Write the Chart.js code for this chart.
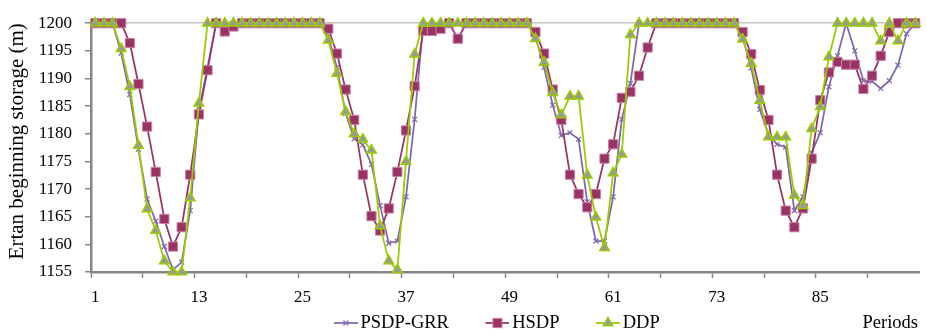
<!DOCTYPE html>
<html>
<head>
<meta charset="utf-8">
<script src="https://cdn.jsdelivr.net/npm/chart.js@4.4.1/dist/chart.umd.min.js"></script>
<style>
  html, body { margin: 0; padding: 0; background: #fff; }
  canvas { display: block; }
</style>
</head>
<body>
<canvas id="storageChart" width="927" height="335"></canvas>
<script>
// periods 1..96
const periods = Array.from({ length: 96 }, (_, i) => String(i + 1));

const psdpGrr = [
  1200, 1200, 1200, 1194.6, 1187.1, 1177.2, 1168.2, 1164.2, 1159.6, 1155.4,
  1156.8, 1166.1, 1184.3, 1192.0, 1200, 1200, 1200, 1200, 1200, 1200,
  1200, 1200, 1200, 1200, 1200, 1200, 1200, 1197.5, 1192.0, 1183.7,
  1179.1, 1178.0, 1174.5, 1167.0, 1160.2, 1160.6, 1168.6, 1182.6, 1200, 1200,
  1200, 1200, 1200, 1200, 1200, 1200, 1200, 1200, 1200, 1200,
  1200, 1197.5, 1192.0, 1185.2, 1179.7, 1180.2, 1179.0, 1167.7, 1160.6, 1160.6,
  1168.6, 1182.6, 1189.1, 1200, 1200, 1200, 1200, 1200, 1200, 1200,
  1200, 1200, 1200, 1200, 1200, 1197.5, 1191.9, 1184.4, 1179.8, 1178.1,
  1177.6, 1166.1, 1168.6, 1176.6, 1180.2, 1188.5, 1194.1, 1200, 1195.0, 1189.6,
  1189.5, 1188.2, 1189.6, 1192.4, 1198.1, 1200
];

const hsdp = [
  1200, 1200, 1200, 1200, 1196.4, 1189.0, 1181.3, 1173.1, 1164.6, 1159.6,
  1163.1, 1172.6, 1183.5, 1191.5, 1200, 1198.5, 1199.4, 1200, 1200, 1200,
  1200, 1200, 1200, 1200, 1200, 1200, 1200, 1199.0, 1194.5, 1188.0,
  1182.5, 1172.6, 1165.1, 1162.5, 1166.5, 1173.1, 1180.6, 1188.6, 1198.6, 1198.6,
  1199.0, 1200, 1197.2, 1200, 1200, 1200, 1200, 1200, 1200, 1200,
  1200, 1198.4, 1194.5, 1188.0, 1182.5, 1172.6, 1169.1, 1166.7, 1169.1, 1175.5,
  1178.1, 1186.5, 1187.6, 1190.5, 1195.6, 1200, 1200, 1200, 1200, 1200,
  1200, 1200, 1200, 1200, 1200, 1198.4, 1194.4, 1187.9, 1182.5, 1172.6,
  1166.1, 1163.1, 1166.5, 1175.5, 1186.1, 1191.1, 1193.0, 1192.5, 1192.5, 1188.1,
  1190.5, 1194.1, 1198.4, 1200, 1200, 1200
];

const ddp = [
  1200, 1200, 1200, 1195.4, 1188.5, 1177.9, 1166.4, 1162.5, 1157.0, 1155,
  1155, 1168.4, 1185.5, 1200, 1200, 1200, 1200, 1200, 1200, 1200,
  1200, 1200, 1200, 1200, 1200, 1200, 1200, 1196.9, 1190.9, 1184.0,
  1180.0, 1179.0, 1177.0, 1163.3, 1157.0, 1155.4, 1175.0, 1194.4, 1200, 1200,
  1200, 1200, 1200, 1200, 1200, 1200, 1200, 1200, 1200, 1200,
  1200, 1197.2, 1192.9, 1187.4, 1183.4, 1186.8, 1186.8, 1172.5, 1164.9, 1159.4,
  1172.9, 1176.3, 1197.9, 1200, 1200, 1200, 1200, 1200, 1200, 1200,
  1200, 1200, 1200, 1200, 1200, 1197.1, 1192.7, 1186.0, 1179.4, 1179.4,
  1179.4, 1168.9, 1167.0, 1180.9, 1184.9, 1193.9, 1200, 1200, 1200, 1200,
  1200, 1196.8, 1200, 1196.8, 1200, 1200
];

const yMin = 1155;
const yMax = 1200;
const yStep = 5;
const labelEvery = 12;   // show 1, 13, 25, ...
const tickEvery = 6;     // tick mark every 6 periods

const FONT = "'Liberation Serif', 'Times New Roman', serif";
const AXIS = '#868686';
const LEGEND_SIZE = 18.5;

const series = [
  { label: 'PSDP-GRR', data: psdpGrr, line: '#8068AE', fill: '#8068AE', edge: '#8068AE', style: 'crossRot', r: 3.5, bw: 1.2, order: 2 },
  { label: 'HSDP', data: hsdp, line: '#993366', fill: '#993366', edge: '#c77fa3', style: 'rect', r: 6.5, bw: 1, order: 1 },
  { label: 'DDP', data: ddp, line: '#99CC00', fill: '#999999', edge: '#99CC00', style: 'triangle', r: 5.5, bw: 1.5, order: 0 }
];

// legend icon: short line with the marker in the middle (Excel style)
function legendIcon(s) {
  const c = document.createElement('canvas');
  c.width = 67; c.height = 14;
  const g = c.getContext('2d');
  const x1 = 67, x0 = x1 - 24, y = 7, cx = (x0 + x1) / 2;
  g.strokeStyle = s.line; g.lineWidth = 1.75;
  g.beginPath(); g.moveTo(x0, y); g.lineTo(x1, y); g.stroke();
  g.fillStyle = s.fill; g.strokeStyle = s.edge; g.lineWidth = s.bw;
  g.beginPath();
  if (s.style === 'rect') {
    const h = s.r * Math.SQRT1_2;
    g.rect(cx - h, y - h, 2 * h, 2 * h); g.fill(); g.stroke();
  } else if (s.style === 'triangle') {
    g.moveTo(cx, y - s.r);
    g.lineTo(cx + s.r * 0.866, y + s.r * 0.5);
    g.lineTo(cx - s.r * 0.866, y + s.r * 0.5);
    g.closePath(); g.fill(); g.stroke();
  } else {
    const h = s.r * Math.SQRT1_2;
    g.moveTo(cx - h, y - h); g.lineTo(cx + h, y + h);
    g.moveTo(cx + h, y - h); g.lineTo(cx - h, y + h);
    g.stroke();
  }
  return c;
}

const legendTweak = {
  id: 'legendTweak',
  afterLayout(chart) {
    const lg = chart.legend;
    lg.left += 16; lg.right += 16;
    lg.top += 7.25; lg.bottom += 7.25;
  },
  afterDraw(chart) {
    const ctx = chart.ctx;
    ctx.save();
    ctx.font = LEGEND_SIZE + 'px ' + FONT;
    ctx.fillStyle = '#000';
    ctx.textAlign = 'right';
    ctx.textBaseline = 'middle';
    ctx.fillText('Periods', 918, 323);
    ctx.restore();
  }
};

new Chart(document.getElementById('storageChart'), {
  type: 'line',
  data: {
    labels: periods,
    datasets: series.map(s => ({
      label: s.label,
      data: s.data,
      borderColor: s.line,
      borderWidth: 1.75,
      pointStyle: s.style,
      pointRadius: s.r,
      pointBackgroundColor: s.fill,
      pointBorderColor: s.edge,
      pointBorderWidth: s.bw,
      tension: 0,
      fill: false,
      clip: false,
      order: s.order
    }))
  },
  options: {
    responsive: false,
    animation: false,
    devicePixelRatio: 1,
    layout: { padding: { top: 18, right: 2, left: 0, bottom: 0 } },
    scales: {
      x: {
        type: 'category',
        offset: true,
        grid: {
          offset: true,
          drawOnChartArea: false,
          drawTicks: true,
          tickLength: 6,
          tickWidth: 1.5,
          tickColor: ctx => (ctx.index % tickEvery === 0 ? AXIS : 'rgba(0,0,0,0)')
        },
        border: { color: AXIS, width: 2.5 },
        ticks: {
          autoSkip: false,
          maxRotation: 0,
          minRotation: 0,
          padding: 9,
          color: '#000',
          font: { family: FONT, size: 17 },
          callback: (v, i) => (i % labelEvery === 0 ? periods[i] : '')
        },
        afterFit: scale => { scale.height = 34.5; }
      },
      y: {
        min: yMin,
        max: yMax,
        ticks: {
          stepSize: yStep,
          padding: 13,
          color: '#000',
          font: { family: FONT, size: 17 },
          callback: v => String(v)
        },
        grid: {
          drawTicks: true,
          tickLength: 6,
          tickWidth: 1.5,
          tickColor: AXIS,
          color: ctx => (ctx.tick && ctx.tick.value === yMax ? '#c4c4c4' : 'rgba(0,0,0,0)'),
          lineWidth: 1.5
        },
        border: { color: AXIS, width: 2.5 },
        title: {
          display: true,
          text: 'Ertan beginning storage (m)',
          align: 'end',
          color: '#000',
          font: { family: FONT, size: 21 },
          padding: { top: 5, bottom: 0 }
        },
        afterFit: scale => { scale.width = 91; }
      }
    },
    plugins: {
      legend: {
        position: 'bottom',
        align: 'center',
        labels: {
          usePointStyle: true,
          pointStyleWidth: 54,
          padding: 0,
          color: '#000',
          font: { family: FONT, size: LEGEND_SIZE },
          generateLabels: () => series.map((s, i) => ({
            text: s.label,
            pointStyle: legendIcon(s),
            datasetIndex: i,
            fillStyle: s.fill,
            strokeStyle: s.line,
            lineWidth: 0,
            hidden: false
          }))
        }
      },
      tooltip: { enabled: false }
    }
  },
  plugins: [legendTweak]
});
</script>
</body>
</html>
